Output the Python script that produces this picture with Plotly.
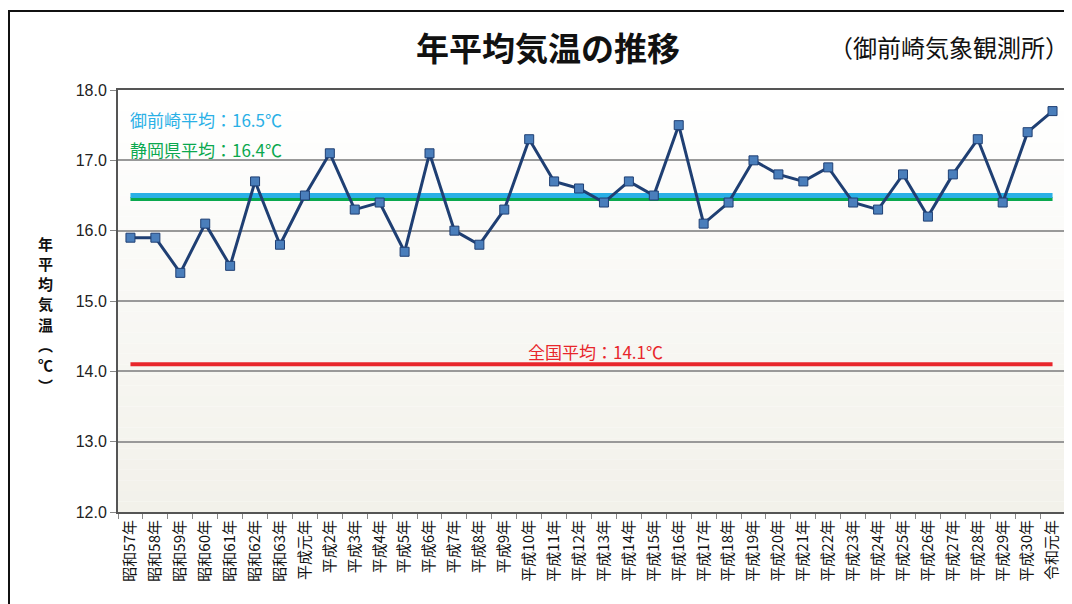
import plotly.graph_objects as go

categories = ["昭和57年", "昭和58年", "昭和59年", "昭和60年", "昭和61年", "昭和62年", "昭和63年",
              "平成元年", "平成2年", "平成3年", "平成4年", "平成5年", "平成6年", "平成7年", "平成8年",
              "平成9年", "平成10年", "平成11年", "平成12年", "平成13年", "平成14年", "平成15年",
              "平成16年", "平成17年", "平成18年", "平成19年", "平成20年", "平成21年", "平成22年",
              "平成23年", "平成24年", "平成25年", "平成26年", "平成27年", "平成28年", "平成29年",
              "平成30年", "令和元年"]
temps = [15.9, 15.9, 15.4, 16.1, 15.5, 16.7, 15.8,
         16.5, 17.1, 16.3, 16.4, 15.7, 17.1, 16.0, 15.8,
         16.3, 17.3, 16.7, 16.6, 16.4, 16.7, 16.5,
         17.5, 16.1, 16.4, 17.0, 16.8, 16.7, 16.9,
         16.4, 16.3, 16.8, 16.2, 16.8, 17.3, 16.4,
         17.4, 17.7]
omaezaki_avg = 16.5
shizuoka_avg = 16.45
national_avg = 14.1
y_ticks = [12.0, 13.0, 14.0, 15.0, 16.0, 17.0, 18.0]
y_title_chars = ["年", "平", "均", "気", "温", "︵", "℃", "︶"]

JP = "Noto Sans CJK JP"
NUM = "Liberation Sans"

fig = go.Figure()

ends = [categories[0], categories[-1]]
fig.add_trace(go.Scatter(x=ends, y=[national_avg] * 2, mode="lines",
                         line=dict(color="#e8262b", width=4), hoverinfo="skip"))
fig.add_trace(go.Scatter(x=ends, y=[shizuoka_avg] * 2, mode="lines",
                         line=dict(color="#0aa84f", width=4), hoverinfo="skip"))
fig.add_trace(go.Scatter(x=ends, y=[omaezaki_avg] * 2, mode="lines",
                         line=dict(color="#2ab0e6", width=5), hoverinfo="skip"))
fig.add_trace(go.Scatter(x=categories, y=temps, mode="lines+markers",
                         line=dict(color="#1f3f73", width=3),
                         marker=dict(symbol="square", size=9, color="#4a7ebb",
                                     line=dict(color="#1f3f73", width=1))))

# gradient background of plot area
shapes = []
n = 40
top = (255, 255, 255)
bot = (242, 241, 234)
for i in range(n):
    t = i / (n - 1)
    c = tuple(round(top[k] + (bot[k] - top[k]) * t) for k in range(3))
    shapes.append(dict(type="rect", xref="x domain", yref="y domain",
                       x0=0, x1=1, y0=1 - (i + 1) / n, y1=1 - i / n,
                       fillcolor="rgb(%d,%d,%d)" % c, line=dict(width=0), layer="below"))
# outer frame
shapes.append(dict(type="rect", xref="paper", yref="paper",
                   x0=-0.1151, x1=1.2, y0=-0.5, y1=1.187,
                   line=dict(color="#111", width=2), fillcolor="rgba(0,0,0,0)"))

annotations = [
    dict(text="<b>年平均気温の推移</b>", xref="paper", yref="paper", x=0.454, y=1.102,
         showarrow=False, font=dict(family=JP, size=33, color="#111"), xanchor="center",
         yanchor="middle"),
    dict(text="（御前崎気象観測所）", xref="paper", yref="paper", x=1.0053, y=1.102,
         showarrow=False, font=dict(family=JP, size=24, color="#111"), xanchor="right",
         yanchor="middle", borderpad=0),
    dict(text="御前崎平均：16.5℃", xref="paper", yref="paper", x=0.0106, y=0.931,
         showarrow=False, xanchor="left", yanchor="middle",
         font=dict(family=JP, size=17, color="#2ab0e6")),
    dict(text="静岡県平均：16.4℃", xref="paper", yref="paper", x=0.0106, y=0.858,
         showarrow=False, xanchor="left", yanchor="middle",
         font=dict(family=JP, size=17, color="#0aa84f")),
    dict(text="全国平均：14.1℃", xref="paper", yref="paper", x=0.504, y=0.381,
         showarrow=False, xanchor="center", yanchor="middle",
         font=dict(family=JP, size=17, color="#e8262b")),
]
# vertical y-axis title, one character per annotation
y0_px = 243.0
step_px = 20.3
for i, ch in enumerate(y_title_chars):
    ypx = y0_px + i * step_px
    annotations.append(dict(
        text="<b>%s</b>" % ch, xref="paper", yref="paper",
        x=-0.077, y=(512 - ypx) / 422, showarrow=False,
        xanchor="center", yanchor="middle", borderpad=0,
        font=dict(family=JP, size=15, color="#111")))

fig.update_layout(
    width=1064, height=596,
    margin=dict(l=110, r=7, t=82, b=92),
    paper_bgcolor="white", plot_bgcolor="rgba(0,0,0,0)",
    showlegend=False,
    shapes=shapes, annotations=annotations,
    xaxis=dict(type="category", categoryorder="array", categoryarray=categories,
               range=[-0.5, len(categories) - 0.5],
               tickson="boundaries", ticks="outside", ticklen=5, tickcolor="#888",
               tickangle=-90, tickfont=dict(family=JP, size=15, color="#111"),
               showline=True, linecolor="#555", linewidth=2, mirror=True,
               showgrid=False, automargin=False),
    yaxis=dict(range=[12, 18], tickvals=y_ticks,
               ticktext=["%.1f" % v for v in y_ticks],
               ticks="outside", ticklen=6, tickcolor="#888",
               tickfont=dict(family=NUM, size=16, color="#222"),
               showline=True, linecolor="#555", linewidth=2, mirror=True,
               showgrid=True, gridcolor="#999", gridwidth=1.5, zeroline=False,
               automargin=False),
)

fig.write_html("out.html")
